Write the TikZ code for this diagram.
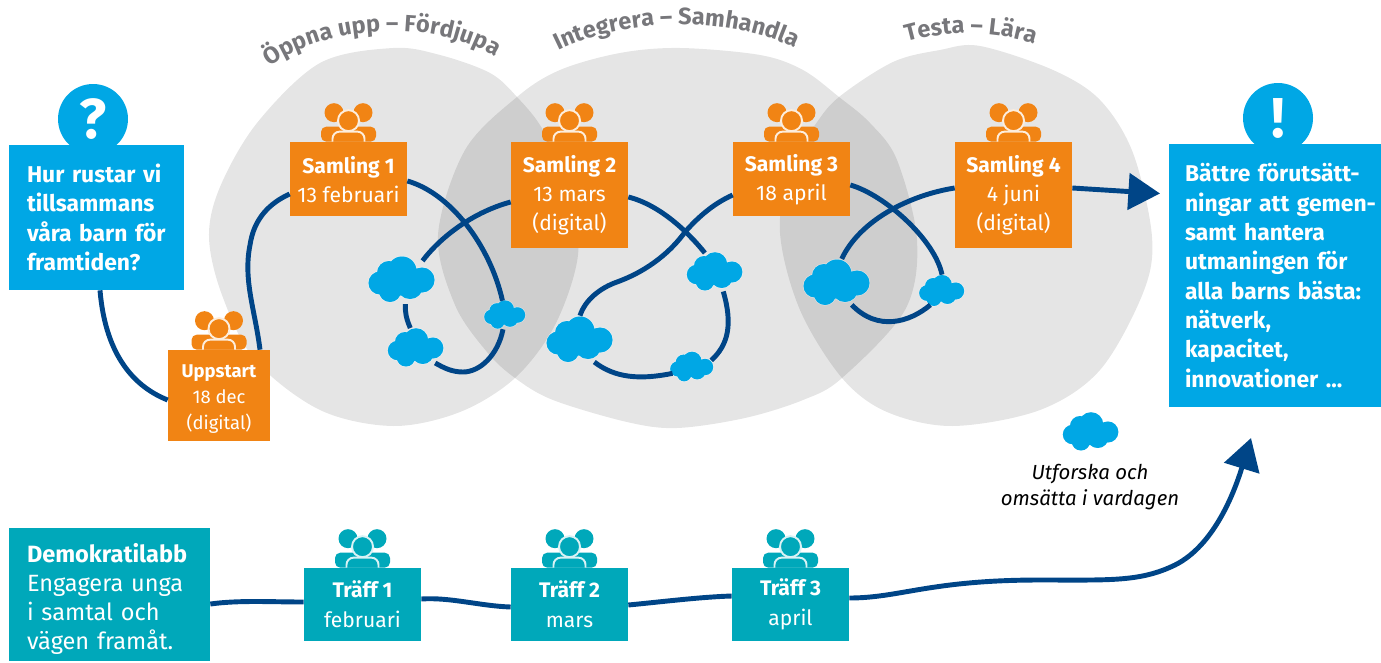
\documentclass[tikz,border=0pt]{standalone}
\usepackage{fontspec}
\setmainfont{Fira Sans}
\usetikzlibrary{arrows.meta,decorations.text,shapes.geometric}

\definecolor{samlingorange}{HTML}{F18414}
\definecolor{rutablue}{HTML}{00A7E5}
\definecolor{traffteal}{HTML}{00A8BA}
\definecolor{linjeblue}{HTML}{004587}
\definecolor{titelgray}{HTML}{77777B}

\newcommand{\topp}[1]{\rule{0pt}{#1}}

\tikzset{
  blob/.style={fill=black,opacity=0.1},
  linje/.style={draw=linjeblue,line width=2.8pt},
  pil/.style={linje,-{Triangle[length=18pt,width=20.5pt]}},
  samling/.style={fill=samlingorange,text=white,align=center,inner sep=0pt,minimum width=2.34cm,minimum height=1.48cm,font=\fontsize{12pt}{16.3pt}\selectfont},
  traff/.style={samling,fill=traffteal,minimum height=1.46cm,font=\fontsize{12pt}{17pt}\selectfont},
  ruta/.style={fill=rutablue,text=white,align=left,inner sep=0pt,font=\fontsize{13pt}{16.7pt}\selectfont\bfseries},
  rund/.style={circle,fill=rutablue,text=white,inner sep=0pt,minimum size=1.4cm,font=\fontsize{32pt}{32pt}\selectfont\bfseries},
  molnbox/.style={ellipse,inner sep=0pt},
  titel/.style={decorate,decoration={text along path,text align=center,text={|\fontsize{13.4pt}{13pt}\selectfont\bfseries\color{titelgray}|#1}}},
  people/.pic={
    \fill[#1] (-14.5,-29) circle [radius=9.5] (14.5,-29) circle [radius=9.5];
    \fill[#1,rounded corners=3pt] (-27.5,0) -- (-27.5,-15) -- (27.5,-15) -- (27.5,0) -- cycle;
    \filldraw[fill=#1,draw=white!85!#1,line width=1.1pt] (0,-21) circle [radius=10.5];
    \filldraw[fill=#1,draw=white!85!#1,line width=1.1pt,rounded corners=4pt] (-16,0) -- (-16,-10) -- (16,-10) -- (16,0);
  },
  moln/.pic={
    \fill[rutablue,draw=white,draw opacity=0.5,line width=0.6pt] (-22,3) circle [radius=11.5] (-13,-7) circle [radius=12] (0,-9) circle [radius=14.5]
      (20,0) circle [radius=12.5] (-12,11) circle [radius=11] (8,6) circle [radius=13];
    \fill[rutablue] (-22,3) circle [radius=11.5] (-13,-7) circle [radius=12] (0,-9) circle [radius=14.5]
      (20,0) circle [radius=12.5] (-12,11) circle [radius=11] (8,6) circle [radius=13] (-5,2) circle [radius=14];
  },
}

\begin{document}
\begin{tikzpicture}[x=0.02cm,y=-0.02cm]
  \useasboundingbox (0,0) rectangle (1381,662);

  % de tre faserna
  \fill[blob] plot[smooth cycle,tension=0.55] coordinates {(393,48) (440,55) (490,73) (517,97) (543,130) (570,190) (578,255) (555,325) (515,378) (460,412) (393,426) (320,410) (255,360) (222,295) (209,237) (220,187) (257,123) (320,63)};
  \fill[blob] plot[smooth cycle,tension=0.55] coordinates {(680,48) (760,55) (803,70) (839,97) (870,123) (897,160) (917,240) (905,310) (842,378) (803,400) (745,418) (677,428) (627,422) (553,400) (515,378) (487,352) (455,305) (438,235) (465,150) (517,97) (560,70) (620,53)};
  \fill[blob] plot[smooth cycle,tension=0.55] coordinates {(980,46) (1053,70) (1100,100) (1133,153) (1152,237) (1143,293) (1100,370) (1040,410) (953,426) (887,412) (842,378) (800,310) (780,233) (790,165) (815,125) (839,97) (893,62) (940,50)};

  \path[titel={Öppna upp – Fördjupa}] (265,70) .. controls (325,22) and (440,18) .. (500,60);
  \path[titel={Integrera – Samhandla}] (555,52) .. controls (620,18) and (730,14) .. (798,50);
  \path[titel={Testa – Lära}] (903,43) .. controls (945,30) and (995,30) .. (1038,45);

  % rutor
  \node[rund] (fragatecken) at (93,119) {?};
  \node[ruta,minimum width=3.5cm,minimum height=2.9cm,text width=2.78cm] (fraga) at (96.5,217.5) {Hur rustar vi\\tillsammans\\våra barn för\\framtiden?};
  \node[rund] (utrop) at (1278,118) {!};
  \node[ruta,minimum width=4.24cm,minimum height=5.26cm,text width=3.6cm] (svar) at (1275,275.5) {\mbox{Bättre förutsätt-}\\\mbox{ningar att gemen-}\\samt hantera\\utmaningen för\\\mbox{alla barns bästa:}\\nätverk,\\kapacitet,\\innovationer ...};

  \node[samling,minimum width=2.04cm,minimum height=1.82cm,font=\fontsize{10.5pt}{14.7pt}\selectfont] (uppstart) at (219,395.5) {\topp{11.5pt}\textbf{Uppstart}\\18 dec\\(digital)};
  \node[samling] (samling1) at (348.5,179) {\topp{10.3pt}\textbf{Samling 1}\\13 februari};
  \node[samling,minimum height=2.12cm] (samling2) at (569.5,195) {\topp{10.1pt}\textbf{Samling 2}\\13 mars\\(digital)};
  \node[samling] (samling3) at (791.5,179) {\topp{10.3pt}\textbf{Samling 3}\\18 april};
  \node[samling,minimum height=2.12cm] (samling4) at (1013.5,195) {\topp{10.1pt}\textbf{Samling 4}\\4 juni\\(digital)};

  \foreach \n in {uppstart,samling1,samling2,samling3,samling4}
    \pic at (\n.north) {people=samlingorange};

  \node[fill=traffteal,text=white,align=left,inner sep=0pt,minimum width=4.02cm,minimum height=2.66cm,text width=3.3cm,font=\fontsize{13.4pt}{16.5pt}\selectfont] (demokrati) at (109.5,594.5) {\topp{16pt}\textbf{Demokratilabb}\\Engagera unga\\i samtal och\\vägen framåt.};
  \node[traff] (traff1) at (362.5,604.5) {\topp{9.2pt}\textbf{Träff 1}\\februari};
  \node[traff] (traff2) at (569.5,604.5) {\topp{9.2pt}\textbf{Träff 2}\\mars};
  \node[traff] (traff3) at (790.5,604.5) {\topp{9.2pt}\textbf{Träff 3}\\april};

  \foreach \n in {traff1,traff2,traff3}
    \pic at (\n.north) {people=traffteal};

  % moln
  \node[molnbox,minimum width=1.32cm,minimum height=0.96cm] (moln1) at (402,280) {};
  \node[molnbox,minimum width=1.12cm,minimum height=0.8cm] (moln2) at (416,348) {};
  \node[molnbox,minimum width=0.8cm,minimum height=0.56cm] (moln3) at (505,315) {};
  \node[molnbox,minimum width=1.32cm,minimum height=0.96cm] (moln4) at (580,340) {};
  \node[molnbox,minimum width=1.12cm,minimum height=0.8cm] (moln5) at (715,272) {};
  \node[molnbox,minimum width=0.84cm,minimum height=0.6cm] (moln6) at (692,367) {};
  \node[molnbox,minimum width=1.32cm,minimum height=0.96cm] (moln7) at (837,283) {};
  \node[molnbox,minimum width=0.88cm,minimum height=0.64cm] (moln8) at (942,291) {};
  \node[molnbox,minimum width=1.12cm,minimum height=0.8cm] (moln9) at (1091,432) {};

  \foreach \n/\s in {moln1/1,moln4/1,moln7/1,moln2/0.84,moln5/0.84,moln9/0.84,moln3/0.62,moln6/0.65,moln8/0.68}
    \pic[scale=\s] at (\n) {moln};

  \node[font=\fontsize{11.6pt}{14.5pt}\selectfont\itshape,align=center,inner sep=0pt] (utforska) at (1090,487) {Utforska och\\omsätta i vardagen};

  % kopplingar
  \draw[linje] (fraga.south -| 100,0) .. controls (105,350) and (130,385) .. (uppstart.west |- 0,400);
  \draw[linje] (uppstart.north -| 260,0) .. controls (255,310) and (243,280) .. (250,245) .. controls (254,218) and (270,203) .. (samling1.west |- 0,194);
  \draw[linje] (samling1.east |- 0,181) .. controls (450,193) and (490,245) .. (moln3.100);
  \draw[linje] (moln3.262) .. controls (498,355) and (480,372) .. (463,372) .. controls (452,372) and (444,368) .. (moln2.-38);
  \draw[linje] (moln2.106) .. controls (406,318) and (405,312) .. (moln1.-82);
  \draw[linje] (moln1.43) .. controls (438,240) and (470,213) .. (samling2.west |- 0,202);
  \draw[linje] (samling2.east |- 0,197) .. controls (660,205) and (688,232) .. (moln5.118);
  \draw[linje] (moln5.-67) .. controls (733,325) and (728,345) .. (moln6.19);
  \draw[linje] (moln6.198) .. controls (640,380) and (615,378) .. (moln4.-57);
  \draw[linje] (moln4.90) .. controls (585,300) and (600,288) .. (617,282) .. controls (650,270) and (672,250) .. (685,232) .. controls (700,215) and (715,203) .. (samling3.west |- 0,195);
  \draw[linje] (samling3.east |- 0,185) .. controls (885,195) and (935,240) .. (moln8.90);
  \draw[linje] (moln8.-130) .. controls (910,322) and (878,332) .. (moln7.-56);
  \draw[linje] (moln7.79) .. controls (860,220) and (910,195) .. (samling4.west |- 0,188);
  \coordinate (pilspets) at (1160,193.5);
  \draw[pil] (samling4.east |- 0,188) -- (pilspets);

  \coordinate (pilspets2) at (1251,438);
  \draw[linje] (demokrati.east |- 0,604) .. controls (240,600) and (270,602) .. (traff1.west |- 0,602);
  \draw[linje] (traff1.east |- 0,599) .. controls (450,597) and (480,606) .. (traff2.west |- 0,607);
  \draw[linje] (traff2.east |- 0,605) .. controls (660,602) and (700,597) .. (traff3.west |- 0,596);
  \draw[pil] (traff3.east |- 0,598) .. controls (900,598) and (930,580) .. (1040,580) .. controls (1110,580) and (1140,582) .. (1175,565) .. controls (1215,545) and (1235,490) .. (pilspets2);
\end{tikzpicture}
\end{document}
